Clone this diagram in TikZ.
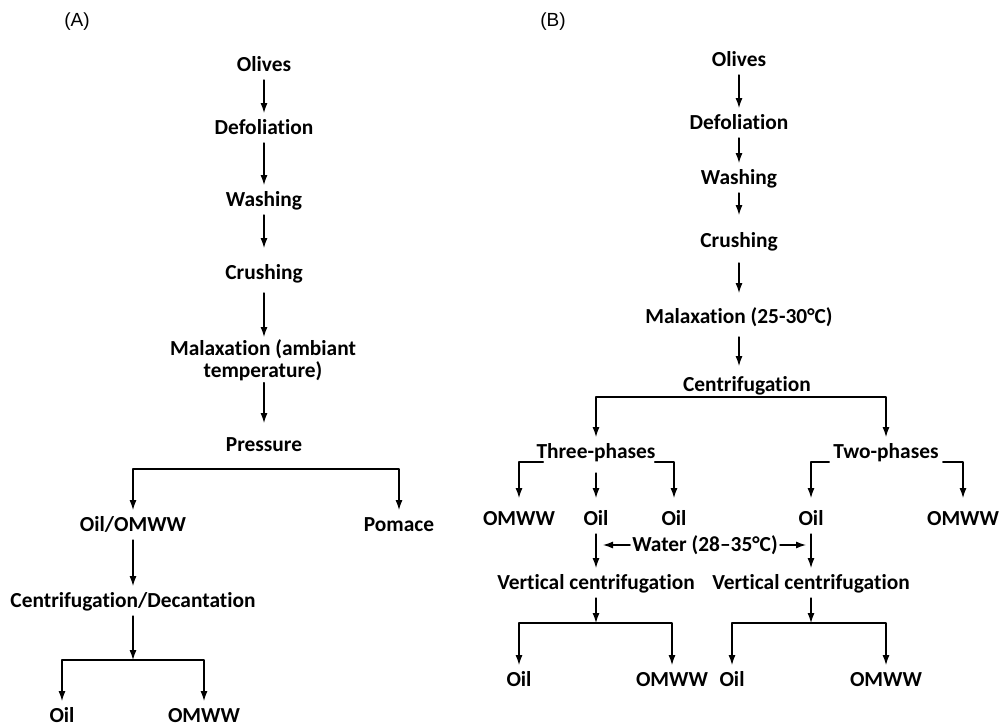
\documentclass[tikz,border=0pt]{standalone}
\usepackage{fontspec}
\setmainfont{Carlito}[Ligatures={TeX,NoCommon}]
\newfontfamily\panelfont{Liberation Sans}
\usetikzlibrary{positioning, arrows.meta}
\tikzset{>={Latex[length=10pt,width=7pt]}}

\begin{document}
\begin{tikzpicture}[x=1pt, y=-1pt,
                    line cap=round, line join=round,
                    proc/.style={font=\fontsize{21.4}{22}\selectfont\bfseries,
                                 inner xsep=1pt, inner ysep=8pt,
                                 text height=13.5pt, text depth=0pt},
                    proctwo/.style={font=\fontsize{21.4}{22}\selectfont\bfseries,
                                    align=center, inner xsep=1pt, inner ysep=2pt},
                    panel/.style={font=\fontsize{19}{21}\selectfont\panelfont},
                    flow/.style={->, line width=1.2pt}]
  \useasboundingbox (0,0) rectangle (1000,727);
  \def\xA{264}
  \def\xB{739}

  % panel labels
  \node[panel] (labA) at (77,22)  {(A)};
  \node[panel] (labB) at (553,22) {(B)};

  % (A) pressing
  \node[proc] (olivesA)  at (\xA,65)  {Olives};
  \node[proc] (defolA)   at (\xA,128) {Defoliation};
  \node[proc] (washA)    at (\xA,200) {Washing};
  \node[proc] (crushA)   at (\xA,273) {Crushing};
  \node[proctwo, anchor=north] (malaxA) at (263,337) {Malaxation (ambiant\\temperature)};
  \node[proc] (pressA)   at (\xA,445) {Pressure};
  \node[proc] (oilomwwA) at (133,525) {Oil/OMWW};
  \node[proc] (pomaceA)  at (399,525) {Pomace};
  \node[proc] (centdecA) at (133,601) {Centrifugation/Decantation};
  \node[proc] (oilA)     at (62,716)  {Oil};
  \node[proc] (omwwA)    at (204,716) {OMWW};
  \coordinate (brA)  at (0,469);
  \coordinate (brAb) at (0,660);

  \draw[flow] (olivesA) -- (defolA);
  \draw[flow] (defolA) -- (washA);
  \draw[flow, shorten >=10pt] (washA) -- (crushA);
  \draw[flow, shorten <=5pt] (crushA) -- (crushA |- malaxA.north);
  \draw[flow, shorten >=7pt] (malaxA.south -| pressA) -- (pressA);
  \draw[flow, <->] (oilomwwA) |- (pomaceA.north |- brA) -- (pomaceA);
  \draw[flow] (oilomwwA) -- (centdecA);
  \draw[flow] (centdecA) -- (centdecA |- brAb);
  \draw[flow, <->] (oilA) |- (omwwA.north |- brAb) -- (omwwA);

  % (B) centrifugation
  \node[proc] (olivesB) at (\xB,60)  {Olives};
  \node[proc] (defolB)  at (\xB,123) {Defoliation};
  \node[proc] (washB)   at (\xB,178) {Washing};
  \node[proc] (crushB)  at (\xB,241) {Crushing};
  \node[proc] (malaxB)  at (\xB,317) {Malaxation (25-30°C)};
  \node[proc] (centB)   at (747,385) {Centrifugation};
  \node[proc] (threeB)  at (596,452) {Three-phases};
  \node[proc] (twoB)    at (886,452) {Two-phases};
  \node[proc] (omwwTB)  at (519,519) {OMWW};
  \node[proc] (oilTB)   at (596,519) {Oil};
  \node[proc] (oilTBb)  at (674,519) {Oil};
  \node[proc] (oilWB)   at (811,519) {Oil};
  \node[proc] (omwwWB)  at (963,519) {OMWW};
  \node[proc, inner xsep=2pt] (waterB) at (705,545) {Water (28–35°C)};
  \node[proc] (vcTB)    at (596,583) {Vertical centrifugation};
  \node[proc] (vcWB)    at (811,583) {Vertical centrifugation};
  \node[proc] (oilTBc)  at (519,680) {Oil};
  \node[proc] (omwwTBc) at (672,680) {OMWW};
  \node[proc] (oilWBc)  at (732,680) {Oil};
  \node[proc] (omwwWBc) at (886,680) {OMWW};
  \coordinate (brB)  at (0,397);
  \coordinate (brBc) at (0,623);

  \draw[flow] (olivesB) -- (defolB);
  \draw[flow] (defolB) -- (washB);
  \draw[flow, shorten >=11pt] (washB) -- (crushB);
  \draw[flow, shorten <=7pt, shorten >=9pt] (crushB) -- (malaxB);
  \draw[flow, shorten <=5pt, shorten >=4pt] (malaxB) -- (malaxB |- centB.north);
  \draw[flow, <->] (threeB) |- (twoB.north |- brB) -- (twoB);

  % phases
  \draw[flow, shorten >=6pt] ([xshift=8pt, yshift=-10pt]threeB.west) -| (omwwTB);
  \draw[flow, shorten <=6pt, shorten >=6pt] (threeB) -- (oilTB);
  \draw[flow, shorten >=6pt] ([xshift=-2pt, yshift=-10pt]threeB.east) -| (oilTBb);
  \draw[flow, shorten >=6pt] ([xshift=-3pt, yshift=-10pt]twoB.west) -| (oilWB);
  \draw[flow, shorten >=6pt] ([xshift=3pt, yshift=-10pt]twoB.east) -| (omwwWB);

  % water and vertical centrifugation
  \draw[flow, shorten >=7pt] (waterB) -- (waterB -| oilTB);
  \draw[flow, shorten >=5pt] (waterB) -- (waterB -| oilWB);
  \draw[flow] (oilTB) -- (vcTB);
  \draw[flow] (oilWB) -- (vcWB);
  \draw[flow] (vcTB) -- (vcTB |- brBc);
  \draw[flow] (vcWB) -- (vcWB |- brBc);
  \draw[flow, <->] (oilTBc) |- (omwwTBc.north |- brBc) -- (omwwTBc);
  \draw[flow, <->] (oilWBc) |- (omwwWBc.north |- brBc) -- (omwwWBc);
\end{tikzpicture}
\end{document}
